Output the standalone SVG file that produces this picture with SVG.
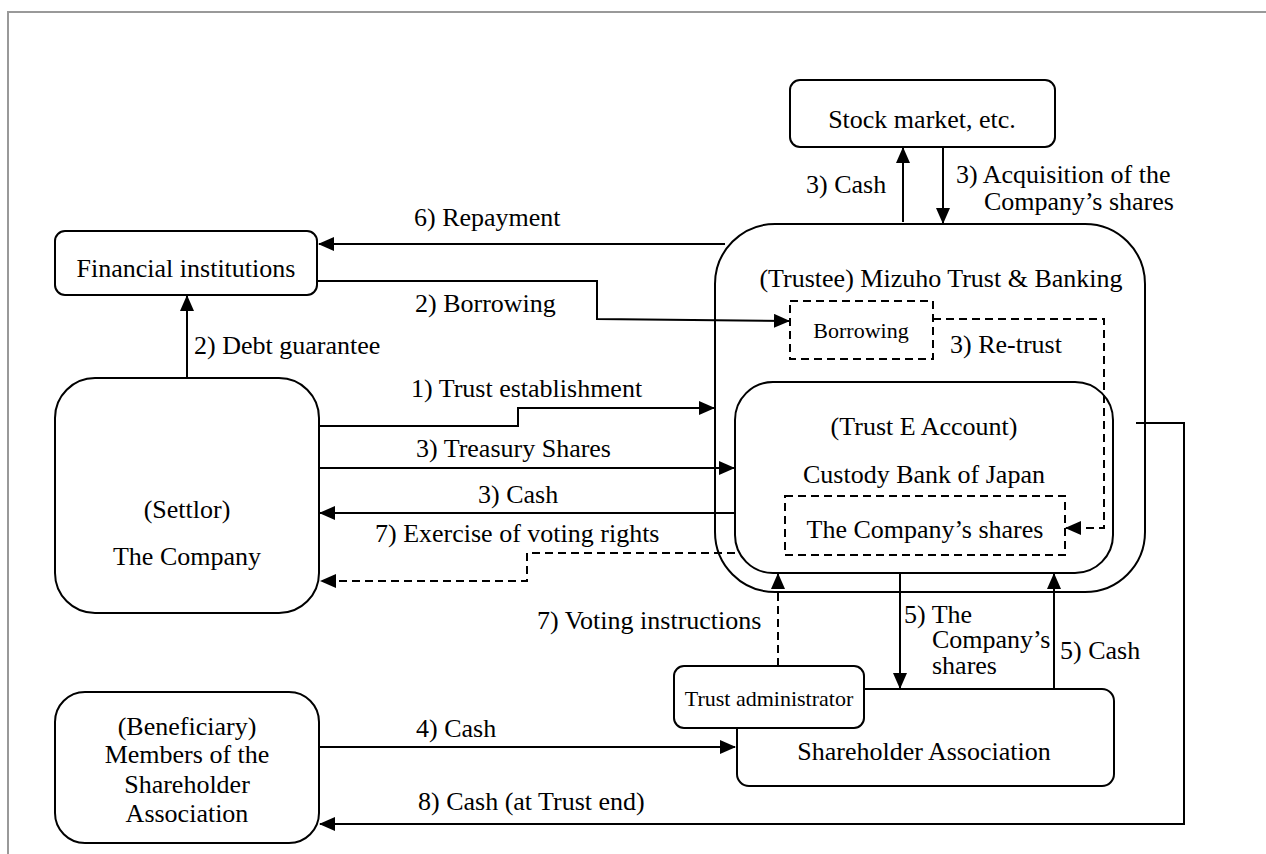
<svg xmlns="http://www.w3.org/2000/svg" width="1266" height="854" viewBox="0 0 1266 854">
<style>
text{font-family:"Liberation Serif","Times New Roman",serif;font-size:26px;fill:#000}
.sm{font-size:22px}
.mid{text-anchor:middle}
.box{fill:#fff;stroke:#000;stroke-width:2}
.dbox{fill:none;stroke:#000;stroke-width:2;stroke-dasharray:8 5}
.c{fill:none;stroke:#000;stroke-width:2}
.d{fill:none;stroke:#000;stroke-width:2;stroke-dasharray:8 5}
</style>
<defs>
<marker id="ah" markerWidth="16" markerHeight="14" refX="15" refY="7" orient="auto" markerUnits="userSpaceOnUse"><path d="M0,0 L16,7 L0,14 z" fill="#000"/></marker>
</defs>
<rect width="1266" height="854" fill="#fff"/>
<path d="M8,854 V12 H1266" fill="none" stroke="#999" stroke-width="2"/>

<g id="stock"><rect class="box" x="790" y="80" width="265" height="67" rx="10"/><text class="mid" x="922" y="128">Stock market, etc.</text></g>
<g id="financial"><rect class="box" x="55" y="231" width="262" height="64" rx="10"/><text class="mid" x="186" y="277">Financial institutions</text></g>
<g id="company"><rect class="box" x="55" y="378" width="264" height="235" rx="40"/><text class="mid" x="187" y="518">(Settlor)</text><text class="mid" x="187" y="565">The Company</text></g>
<g id="beneficiary"><rect class="box" x="55" y="692" width="264" height="151" rx="30"/><text class="mid" x="187" y="735">(Beneficiary)</text><text class="mid" x="187" y="763">Members of the</text><text class="mid" x="187" y="793">Shareholder</text><text class="mid" x="187" y="822">Association</text></g>
<g id="trustee"><rect class="box" x="715" y="224" width="430" height="368" rx="60"/><text class="mid" x="941" y="287">(Trustee) Mizuho Trust &amp; Banking</text></g>
<g id="borrowing"><rect class="dbox" x="790" y="301" width="143" height="58"/><text class="mid sm" x="861" y="338">Borrowing</text></g>
<g id="trustE"><rect class="box" x="735" y="382" width="378" height="191" rx="38"/><text class="mid" x="924" y="435">(Trust E Account)</text><text class="mid" x="924" y="483">Custody Bank of Japan</text></g>
<g id="shares"><rect class="dbox" x="785" y="496" width="280" height="59"/><text class="mid" x="925" y="538">The Company’s shares</text></g>
<g id="association"><rect class="box" x="737" y="689" width="377" height="97" rx="12"/><text class="mid" x="924" y="760">Shareholder Association</text></g>
<g id="admin"><rect class="box" x="674" y="666" width="190" height="62" rx="10"/><text class="mid sm" x="769" y="706">Trust administrator</text></g>

<g id="connectors">
<path class="c" d="M903,222 V148" marker-end="url(#ah)"/>
<path class="c" d="M943,148 V223" marker-end="url(#ah)"/>
<path class="c" d="M725,244 H319" marker-end="url(#ah)"/>
<path class="c" d="M317,281 H597 V319 L789,321" marker-end="url(#ah)"/>
<path class="c" d="M187,378 V296" marker-end="url(#ah)"/>
<path class="c" d="M319,426 H518 V408 H714" marker-end="url(#ah)"/>
<path class="c" d="M319,468 H734" marker-end="url(#ah)"/>
<path class="c" d="M736,513 H320" marker-end="url(#ah)"/>
<path class="d" d="M735,553 H527 V581 H321" marker-end="url(#ah)"/>
<path class="d" d="M933,319 H1104 V528 H1066" marker-end="url(#ah)"/>
<path class="d" d="M778,666 V574" marker-end="url(#ah)"/>
<path class="c" d="M900,573 V688" marker-end="url(#ah)"/>
<path class="c" d="M1054,688 V574" marker-end="url(#ah)"/>
<path class="c" d="M319,747 H735" marker-end="url(#ah)"/>
<path class="c" d="M1136,423 H1184 V824 H320" marker-end="url(#ah)"/>
</g>

<g id="labels">
<text x="806" y="193">3) Cash</text>
<text x="956" y="183">3) Acquisition of the</text>
<text x="984" y="210">Company’s shares</text>
<text x="414" y="226">6) Repayment</text>
<text x="415" y="312">2) Borrowing</text>
<text x="194" y="354">2) Debt guarantee</text>
<text x="950" y="353">3) Re-trust</text>
<text x="411" y="397">1) Trust establishment</text>
<text x="416" y="457">3) Treasury Shares</text>
<text x="478" y="503">3) Cash</text>
<text x="375" y="542">7) Exercise of voting rights</text>
<text x="537" y="629">7) Voting instructions</text>
<text x="904" y="623">5) The</text>
<text x="932" y="648">Company’s</text>
<text x="932" y="674">shares</text>
<text x="1060" y="659">5) Cash</text>
<text x="416" y="737">4) Cash</text>
<text x="418" y="810">8) Cash (at Trust end)</text>
</g>
</svg>
